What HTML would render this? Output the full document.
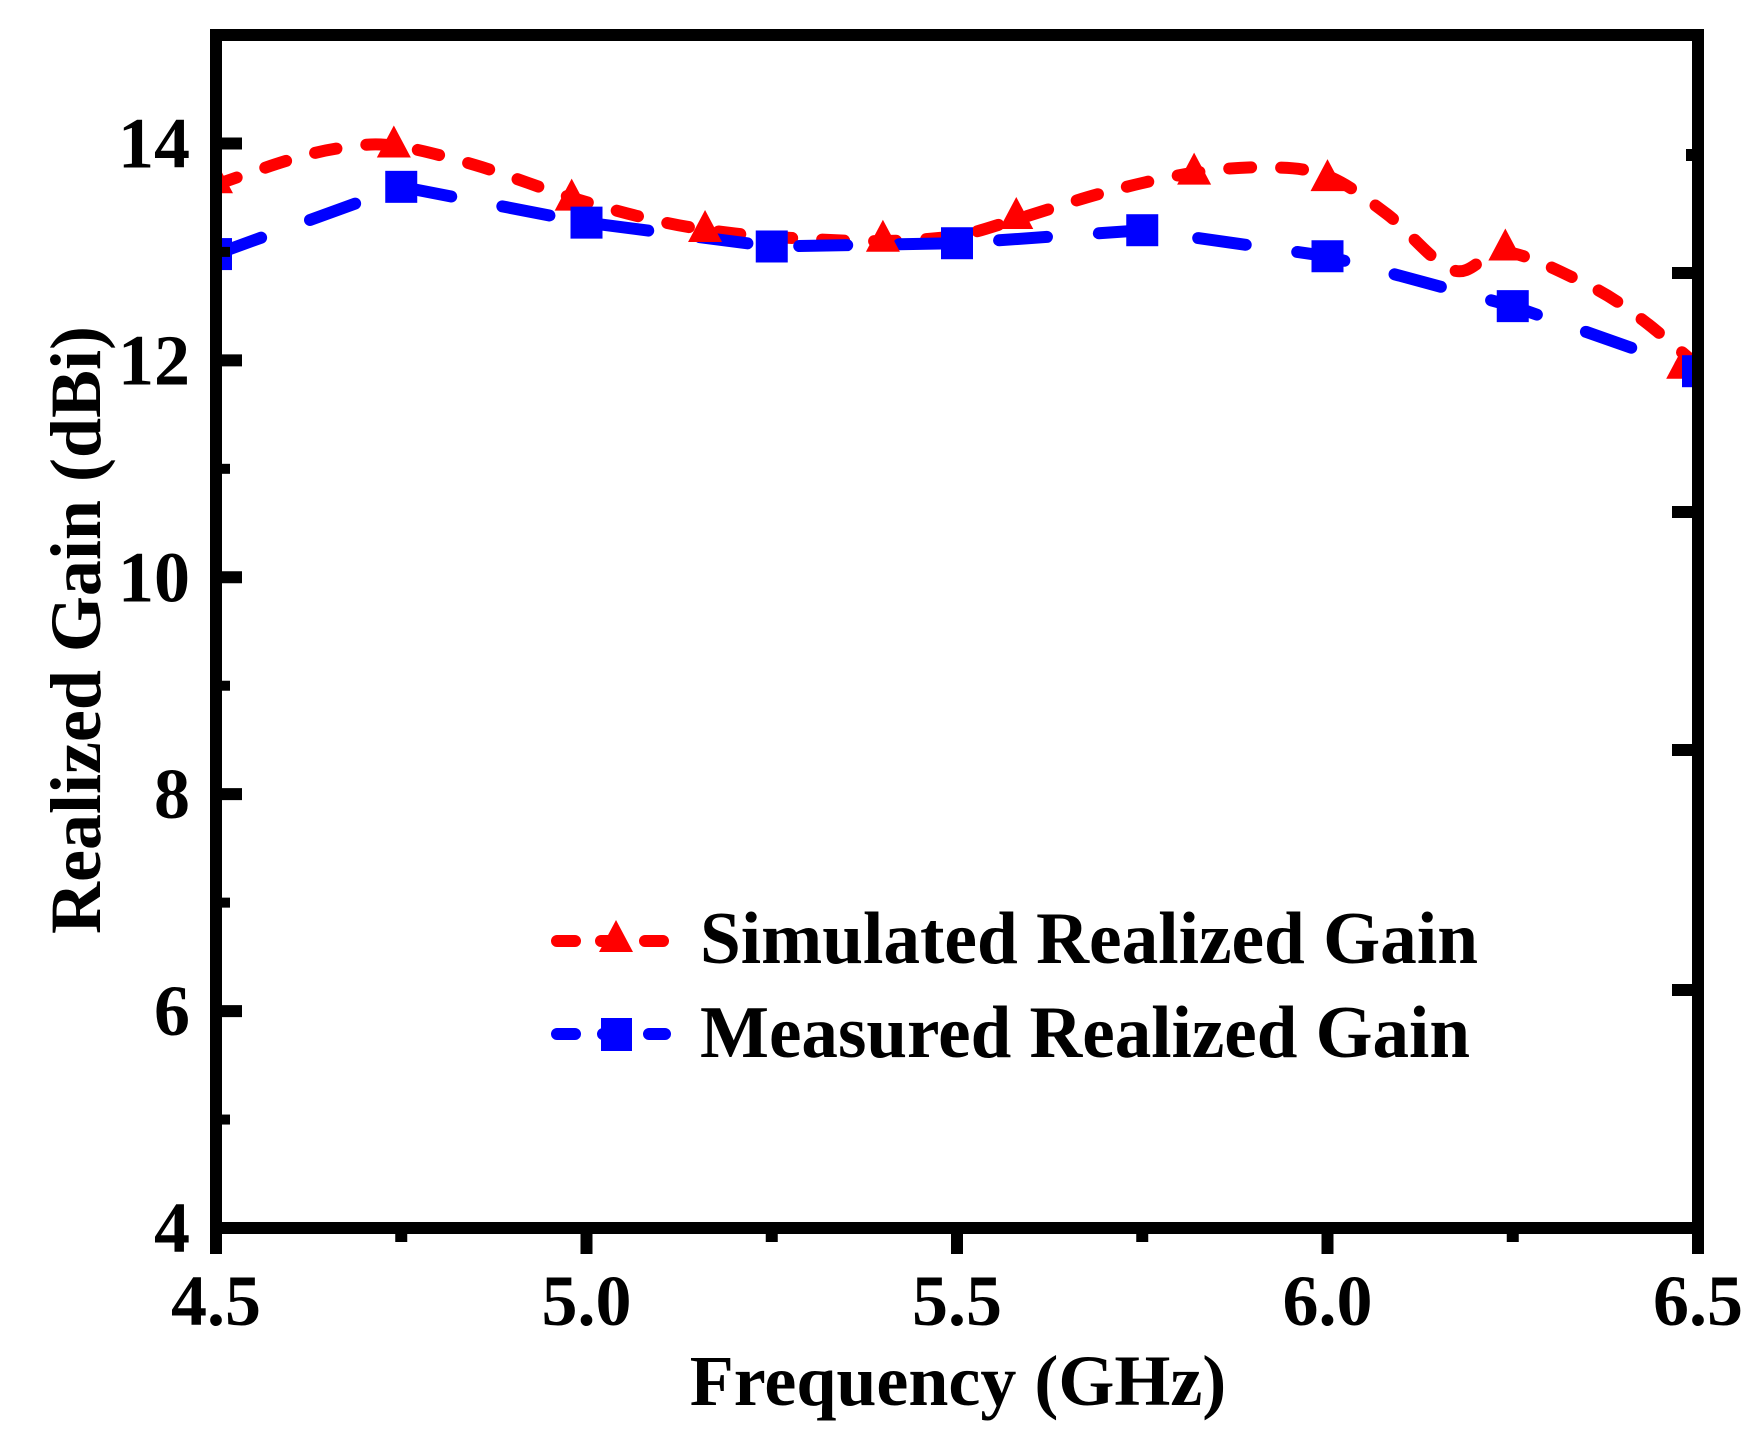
<!DOCTYPE html>
<html><head><meta charset="utf-8"><style>
html,body{margin:0;padding:0;background:#fff;}
svg{display:block;font-family:"Liberation Serif",serif;font-weight:bold;}
</style></head><body>
<svg id="chart" width="1756" height="1447" viewBox="0 0 1756 1447" xmlns="http://www.w3.org/2000/svg">
<g id="plot"></g>
<text x="958" y="1405" font-size="72" text-anchor="middle">Frequency (GHz)</text>
<text transform="translate(100,630) rotate(-90)" font-size="72" text-anchor="middle">Realized Gain (dBi)</text>
<g>
<line x1="557" y1="941" x2="665" y2="941" stroke="#ff0000" stroke-width="12" stroke-linecap="round" stroke-dasharray="18 26"/>
<polygon points="616,920 599,952 633,952" fill="#ff0000"/>
<text x="700" y="963" font-size="74" textLength="778" lengthAdjust="spacingAndGlyphs">Simulated Realized Gain</text>
<line x1="557" y1="1034" x2="665" y2="1034" stroke="#0000ff" stroke-width="12" stroke-linecap="round" stroke-dasharray="18 28"/>
<rect x="601" y="1018" width="31" height="33" fill="#0000ff"/>
<text x="700" y="1057" font-size="74" textLength="770" lengthAdjust="spacingAndGlyphs">Measured Realized Gain</text>
</g>
</svg>
<script>
const simLineX=[4.5,4.6,4.67,4.74,4.85,4.98,5.1,5.2,5.3,5.4,5.5,5.58,5.7,5.82,5.92,6.0,6.08,6.17,6.24,6.35,6.42,6.5];
const simLineY=[13.62,13.85,13.96,13.98,13.8,13.5,13.28,13.17,13.12,13.1,13.15,13.3,13.55,13.73,13.78,13.7,13.35,12.83,13.0,12.7,12.4,11.95];
const simMarkX=[4.5,4.74,4.98,5.16,5.4,5.58,5.82,6.0,6.24,6.48];
const simMarkY=[13.67,14.0,13.51,13.22,13.13,13.34,13.75,13.69,13.05,11.96];
const measX=[4.5,4.75,5.0,5.25,5.5,5.75,6.0,6.25,6.5];
const measY=[12.98,13.6,13.27,13.05,13.08,13.2,12.96,12.5,11.9];
const xTicks=[4.5,5.0,5.5,6.0,6.5];
const xTickLabels=["4.5","5.0","5.5","6.0","6.5"];
const yTicks=[4,6,8,10,12,14];
const yTickLabels=["4","6","8","10","12","14"];

const L=216,R=1698,T=35,B=1228;
const xMin=4.5,xMax=6.5,yMin=4,yMax=15;
const sx=v=>L+(v-xMin)/(xMax-xMin)*(R-L);
const sy=v=>B-(v-yMin)/(yMax-yMin)*(B-T);
const NS="http://www.w3.org/2000/svg";
const plot=document.getElementById('plot');
function mk(tag,attrs){const e=document.createElementNS(NS,tag);for(const k in attrs)e.setAttribute(k,attrs[k]);return e;}

const defs=mk('defs',{});const cp=mk('clipPath',{id:'clip'});cp.appendChild(mk('rect',{x:L,y:T,width:R-L,height:B-T}));defs.appendChild(cp);plot.appendChild(defs);

const sp=simLineX.map((x,i)=>[sx(x),sy(simLineY[i])]);
let d='M'+sp[0][0]+','+sp[0][1];
for(let i=0;i<sp.length-1;i++){
  const p0=sp[Math.max(0,i-1)],p1=sp[i],p2=sp[i+1],p3=sp[Math.min(sp.length-1,i+2)];
  const c1=[p1[0]+(p2[0]-p0[0])/6,p1[1]+(p2[1]-p0[1])/6];
  const c2=[p2[0]-(p3[0]-p1[0])/6,p2[1]-(p3[1]-p1[1])/6];
  d+=' C'+c1[0]+','+c1[1]+' '+c2[0]+','+c2[1]+' '+p2[0]+','+p2[1];
}
const simPath=mk('path',{d:d,fill:'none',stroke:'#ff0000','stroke-width':12,'stroke-linecap':'round','stroke-dasharray':'22 30','clip-path':'url(#clip)'});


plot.appendChild(simPath);

const measPts=measX.map((x,i)=>sx(x)+','+sy(measY[i])).join(' ');
const measLine=mk('polyline',{points:measPts,fill:'none',stroke:'#0000ff','stroke-width':12,'stroke-linecap':'round','stroke-dasharray':'48 52','clip-path':'url(#clip)'});


plot.appendChild(measLine);

simMarkX.forEach((x,i)=>{
  const cx=sx(x),cy=sy(simMarkY[i]);
  const t=mk('polygon',{points:`${cx},${cy-18} ${cx-17},${cy+14} ${cx+17},${cy+14}`,fill:'#ff0000','clip-path':'url(#clip)'});
  
  
  plot.appendChild(t);
});
measX.forEach((x,i)=>{
  const cx=sx(x),cy=sy(measY[i]);
  const r=mk('rect',{x:cx-16,y:cy-16,width:32,height:32,fill:'#0000ff','clip-path':'url(#clip)'});
  
  
  plot.appendChild(r);
});

const frame=mk('rect',{x:L,y:T,width:R-L,height:B-T,fill:'none',stroke:'#000','stroke-width':12});


plot.appendChild(frame);

xTicks.forEach((v,i)=>{
  const x=sx(v);
  const t=mk('line',{x1:x,y1:B,x2:x,y2:B+26,stroke:'#000','stroke-width':12});
  
  
  plot.appendChild(t);
  if(i<xTicks.length-1){
    const m=mk('line',{x1:sx(v+0.25),y1:B,x2:sx(v+0.25),y2:B+14,stroke:'#000','stroke-width':12});
    
    
    plot.appendChild(m);
  }
  const lb=mk('text',{x:x,y:1325,'font-size':72,'text-anchor':'middle'});
  lb.textContent=xTickLabels[i];
  
  
  plot.appendChild(lb);
});
yTicks.forEach((v,i)=>{
  const y=sy(v);
  const t=mk('line',{x1:L,y1:y,x2:L+26,y2:y,stroke:'#000','stroke-width':12});
  
  
  plot.appendChild(t);
  const m=mk('line',{x1:L,y1:sy(v+1),x2:L+14,y2:sy(v+1),stroke:'#000','stroke-width':10});
  
  
  plot.appendChild(m);
  const lb=mk('text',{x:190,y:y+24,'font-size':72,'text-anchor':'end'});
  lb.textContent=yTickLabels[i];
  
  
  plot.appendChild(lb);
});
[155,273,512,750,990].forEach((y,i)=>{
  const t=mk('line',{x1:R,y1:y,x2:R-(i===0?12:26),y2:y,stroke:'#000','stroke-width':12});
  
  
  plot.appendChild(t);
});
</script>
</body></html>
